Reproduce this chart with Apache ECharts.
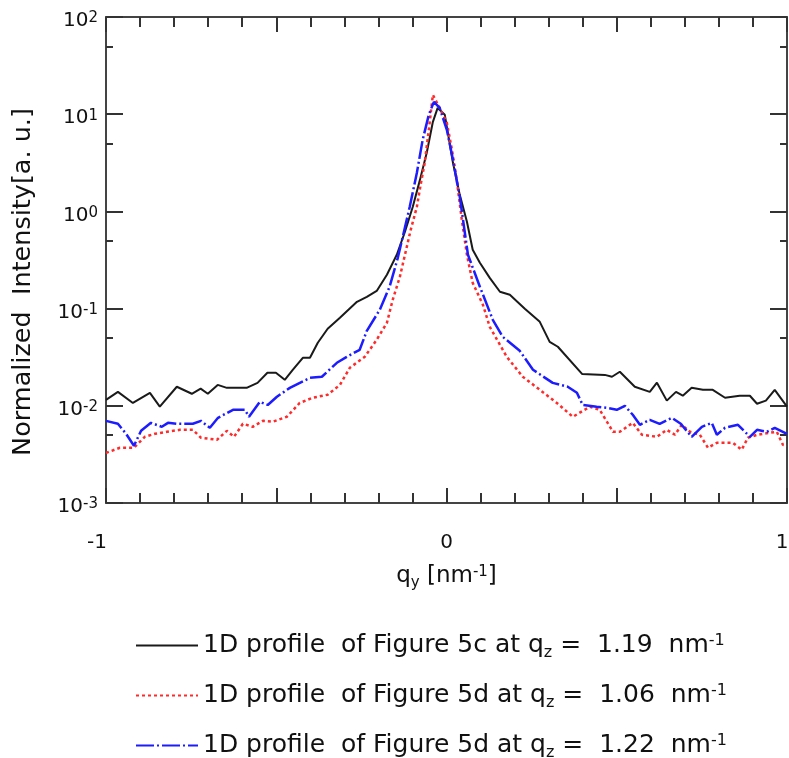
<!DOCTYPE html>
<html>
<head>
<meta charset="utf-8">
<script src="https://cdn.jsdelivr.net/npm/echarts@6/dist/echarts.min.js"></script>
<style>
html,body{margin:0;padding:0;background:#fff;}
#chart{width:789px;height:758px;}
</style>
</head>
<body>
<div id="chart"></div>
<script>
// ---- data ----
const legendNames = ['black', 'red', 'blue'];
const legendLabels = {
  black: '1D profile  of Figure 5c at q{sub|z} =  1.19  nm{sup|-1}',
  red:   '1D profile  of Figure 5d at q{sub|z} =  1.06  nm{sup|-1}',
  blue:  '1D profile  of Figure 5d at q{sub|z} =  1.22  nm{sup|-1}'
};
const xTickLabels = { '-1': '{l|-1}', '0': '0', '1': '{r|1}' };

const qBlack = [-1.000,-0.965,-0.921,-0.871,-0.842,-0.792,-0.748,-0.722,-0.701,-0.672,-0.645,-0.587,-0.555,-0.526,-0.501,-0.475,-0.451,-0.422,-0.401,-0.378,-0.349,-0.313,-0.263,-0.234,-0.205,-0.175,-0.146,-0.122,-0.099,-0.078,-0.058,-0.040,-0.026,-0.005,0.019,0.039,0.060,0.077,0.098,0.127,0.157,0.186,0.230,0.274,0.303,0.327,0.398,0.465,0.486,0.509,0.553,0.597,0.618,0.647,0.674,0.694,0.720,0.753,0.782,0.818,0.861,0.891,0.912,0.938,0.964,1.000];
const iBlack = [0.0115,0.0139,0.0107,0.0136,0.0098,0.0157,0.0133,0.0150,0.0133,0.0164,0.0153,0.0153,0.0172,0.0219,0.0219,0.0185,0.0235,0.0312,0.0312,0.0445,0.0620,0.0804,0.1175,0.1322,0.152,0.223,0.358,0.617,1.115,2.11,4.01,8.35,11.6,9.86,3.16,1.48,0.782,0.403,0.296,0.207,0.149,0.1387,0.0995,0.0731,0.0455,0.0405,0.0213,0.0208,0.0199,0.0224,0.0157,0.0139,0.0173,0.0113,0.0139,0.0127,0.0153,0.0146,0.0146,0.0121,0.0127,0.0127,0.0105,0.0113,0.0146,0.0098];

const qRed = [-1.000,-0.959,-0.918,-0.886,-0.856,-0.821,-0.783,-0.745,-0.721,-0.674,-0.645,-0.624,-0.598,-0.569,-0.539,-0.510,-0.469,-0.431,-0.393,-0.349,-0.313,-0.284,-0.240,-0.205,-0.175,-0.158,-0.137,-0.122,-0.105,-0.087,-0.076,-0.064,-0.052,-0.040,-0.020,0.001,0.016,0.030,0.045,0.060,0.077,0.107,0.127,0.177,0.224,0.274,0.324,0.371,0.421,0.450,0.489,0.509,0.547,0.574,0.618,0.647,0.671,0.691,0.715,0.744,0.768,0.794,0.841,0.867,0.885,0.912,0.950,0.970,0.988,1.000];
const iRed = [0.00328,0.00370,0.00370,0.00480,0.00515,0.00540,0.00566,0.00566,0.00469,0.00447,0.00553,0.00480,0.00653,0.00608,0.00700,0.00685,0.00771,0.0107,0.0121,0.0130,0.0164,0.0246,0.0319,0.0478,0.0714,0.123,0.212,0.358,0.647,1.115,1.88,3.16,6.91,15.8,11.6,8.16,4.30,2.11,0.820,0.358,0.184,0.1094,0.0650,0.0319,0.0199,0.0146,0.0107,0.00771,0.00977,0.0091,0.00540,0.00540,0.00668,0.00503,0.00480,0.00566,0.00503,0.00638,0.00540,0.00503,0.00370,0.00416,0.00416,0.00353,0.00469,0.00503,0.00528,0.00540,0.00397,0.00388];

const qBlue = [-1.000,-0.965,-0.941,-0.918,-0.897,-0.868,-0.836,-0.818,-0.789,-0.745,-0.721,-0.695,-0.671,-0.627,-0.592,-0.580,-0.548,-0.525,-0.498,-0.460,-0.401,-0.366,-0.322,-0.293,-0.255,-0.234,-0.196,-0.167,-0.143,-0.125,-0.108,-0.087,-0.070,-0.052,-0.037,-0.020,0.001,0.019,0.039,0.063,0.098,0.136,0.165,0.215,0.254,0.312,0.356,0.383,0.400,0.441,0.471,0.500,0.524,0.547,0.568,0.597,0.626,0.662,0.688,0.720,0.750,0.779,0.794,0.818,0.856,0.891,0.912,0.941,0.964,1.000];
const iBlue = [0.00700,0.00653,0.00515,0.00388,0.00553,0.00668,0.00608,0.00668,0.00653,0.00653,0.00700,0.00594,0.00753,0.00910,0.00910,0.00771,0.0110,0.0102,0.0124,0.0153,0.0194,0.0199,0.0277,0.0319,0.0377,0.0591,0.0972,0.168,0.333,0.617,1.115,2.50,5.45,9.86,13.4,11.6,6.91,3.40,1.41,0.358,0.168,0.0767,0.0513,0.0368,0.0235,0.0172,0.0157,0.0136,0.0102,0.0098,0.00954,0.0091,0.0100,0.00808,0.00638,0.00718,0.00653,0.00753,0.00653,0.00480,0.00608,0.00668,0.00503,0.00594,0.00638,0.00480,0.00566,0.00540,0.00594,0.00515];

const yMinorTickValues = [0.005, 0.05, 0.5, 5, 50];

// ---- build ----
const zip = (q, v) => q.map((x, k) => [x, v[k]]);
const FONT = 'DejaVu Sans';
const TXT = '#111';
const richLegend = {
  sub: { fontFamily: FONT, fontSize: 16, color: TXT, padding: [12, 0, 0, 0], verticalAlign: 'top', lineHeight: 16 },
  sup: { fontFamily: FONT, fontSize: 16, color: TXT, padding: [0, 0, 12, 0], verticalAlign: 'top', lineHeight: 16 }
};
const richName = {
  sub: { fontFamily: FONT, fontSize: 15, color: TXT, padding: [11, 0, 0, 0], verticalAlign: 'top', lineHeight: 15 },
  sup: { fontFamily: FONT, fontSize: 15, color: TXT, padding: [0, 0, 11, 0], verticalAlign: 'top', lineHeight: 15 }
};
const axisLineStyle = { color: '#444', width: 2 };
const tickStyle = { color: '#333', width: 2 };

const xBase = {
  type: 'value', min: -1, max: 1, interval: 0.5, gridIndex: 0,
  axisLine: { show: true, onZero: false, lineStyle: axisLineStyle },
  axisTick: { show: true, inside: true, length: 15, lineStyle: tickStyle },
  minorTick: { show: true, splitNumber: 5, length: 10, lineStyle: tickStyle },
  splitLine: { show: false }
};
// invisible helper x axes whose zero sits on the left / right plot edge
const xHelper = {
  type: 'value', gridIndex: 0, show: true,
  axisLine: { show: false, onZero: false },
  axisTick: { show: false }, axisLabel: { show: false }, splitLine: { show: false }
};
const yBase = {
  type: 'log', logBase: 10, min: 0.001, max: 100, gridIndex: 0,
  axisLine: { show: true, onZero: false, lineStyle: axisLineStyle },
  axisTick: { show: true, inside: true, length: 17, lineStyle: tickStyle },
  splitLine: { show: false }
};
// helper axes that only carry the short ticks at 5 x 10^n
const yMinor = {
  type: 'log', logBase: 10, min: 0.001, max: 100, gridIndex: 0,
  axisLabel: { show: false },
  axisTick: { show: true, inside: true, length: 7, lineStyle: tickStyle, customValues: yMinorTickValues },
  splitLine: { show: false }
};

const option = {
  animation: false,
  backgroundColor: '#fff',
  grid: {
    left: 106, right: 2, top: 17, bottom: 255, containLabel: false,
    outerBounds: { left: -80, right: -80, top: -80, bottom: -80 }
  },
  xAxis: [
    Object.assign({}, xBase, {
      position: 'bottom',
      axisLabel: {
        margin: 30, fontFamily: FONT, fontSize: 20, color: TXT,
        formatter: v => (xTickLabels[String(v)] !== undefined ? xTickLabels[String(v)] : ''),
        rich: {
          l: { fontFamily: FONT, fontSize: 20, color: TXT, padding: [0, 18, 0, 0] },
          r: { fontFamily: FONT, fontSize: 20, color: TXT, padding: [0, 10, 0, 0] }
        }
      },
      name: 'q{sub|y} [nm{sup|-1}]',
      nameLocation: 'middle', nameGap: 62,
      nameTextStyle: { fontFamily: FONT, fontSize: 23, color: TXT, rich: richName }
    }),
    Object.assign({}, xBase, { position: 'top', axisLabel: { show: false } }),
    Object.assign({}, xHelper, { min: 0, max: 1 }),
    Object.assign({}, xHelper, { min: -1, max: 0 })
  ],
  yAxis: [
    Object.assign({}, yBase, {
      position: 'left',
      axisLabel: {
        margin: 8, padding: [8, 0, 0, 0],
        formatter: v => '{b|10}{s|' + Math.round(Math.log10(v)) + '}',
        rich: {
          b: { fontFamily: FONT, fontSize: 20, color: TXT, lineHeight: 20, verticalAlign: 'bottom' },
          s: { fontFamily: FONT, fontSize: 15, color: TXT, lineHeight: 15, padding: [0, 0, 9, 0], verticalAlign: 'top' }
        }
      },
      name: 'Normalized  Intensity[a. u.]',
      nameLocation: 'middle', nameGap: 70, nameRotate: 90,
      nameTextStyle: { fontFamily: FONT, fontSize: 25.5, color: TXT, padding: [0, 44, 0, 0] }
    }),
    Object.assign({}, yBase, { position: 'right', axisLabel: { show: false } }),
    Object.assign({}, yMinor, { position: 'left', axisLine: { show: false, onZero: true, onZeroAxisIndex: 2 } }),
    Object.assign({}, yMinor, { position: 'right', axisLine: { show: false, onZero: true, onZeroAxisIndex: 3 } })
  ],
  legend: {
    orient: 'vertical', left: 130, top: 628, height: 160,
    itemWidth: 62, itemHeight: 14, itemGap: 22,
    data: legendNames,
    itemStyle: { opacity: 0 },
    formatter: name => legendLabels[name],
    textStyle: { fontFamily: FONT, fontSize: 25, color: TXT, rich: richLegend }
  },
  series: [
    { name: 'black', type: 'line', data: zip(qBlack, iBlack), showSymbol: false, symbol: 'none',
      lineStyle: { color: '#1a1a1a', width: 2, type: 'solid' }, itemStyle: { color: '#1a1a1a' }, z: 2 },
    { name: 'red', type: 'line', data: zip(qRed, iRed), showSymbol: false, symbol: 'none',
      lineStyle: { color: '#ff2b2b', width: 2.5, type: [3, 3] }, itemStyle: { color: '#ff2b2b' }, z: 3 },
    { name: 'blue', type: 'line', data: zip(qBlue, iBlue), showSymbol: false, symbol: 'none',
      lineStyle: { color: '#1c1cff', width: 2.5, type: [18, 3, 2, 3] }, itemStyle: { color: '#1c1cff' }, z: 4 }
  ]
};
const chart = echarts.init(document.getElementById('chart'), null, { renderer: 'canvas' });
chart.setOption(option);
</script>
</body>
</html>
